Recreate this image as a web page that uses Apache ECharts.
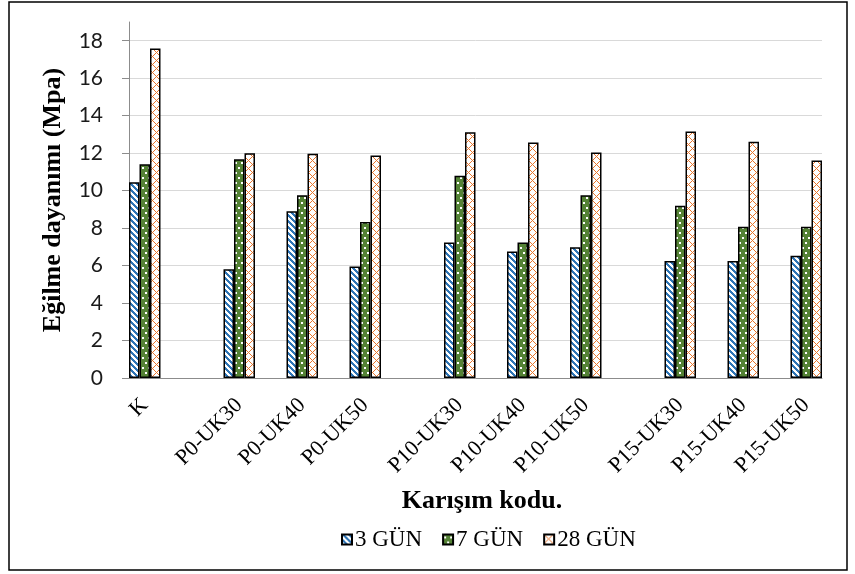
<!DOCTYPE html>
<html>
<head>
<meta charset="utf-8">
<script src="https://cdn.jsdelivr.net/npm/echarts@6/dist/echarts.min.js"></script>
<style>
  html, body { margin: 0; padding: 0; background: #fff; }
  #chart { width: 855px; height: 574px; }
</style>
</head>
<body>
<div id="chart"></div>
<script>
// Mix codes, grouped by P content
const groups = [
  ['K'],
  ['P0-UK30', 'P0-UK40', 'P0-UK50'],
  ['P10-UK30', 'P10-UK40', 'P10-UK50'],
  ['P15-UK30', 'P15-UK40', 'P15-UK50']
];
const seriesNames = ['3 GÜN', '7 GÜN', '28 GÜN'];

// Flexural strength (MPa), in the order of the mix codes above
const day3  = [10.45, 5.80, 8.90, 5.95, 7.23, 6.75, 6.98, 6.25, 6.25, 6.53];
const day7  = [11.41, 11.68, 9.76, 8.32, 10.79, 7.23, 9.76, 9.19, 8.07, 8.07];
const day28 = [17.59, 12.00, 11.97, 11.88, 13.12, 12.57, 12.04, 13.16, 12.61, 11.61];

const yTicks = [0, 2, 4, 6, 8, 10, 12, 14, 16, 18];

// Axis slots: one blank slot between mixes of a group, two between groups
const mixNames = groups.flat();
const axisCats = [];
groups.forEach((g, gi) => {
  if (gi > 0) axisCats.push('', '');
  g.forEach((name, i) => {
    if (i > 0) axisCats.push('');
    axisCats.push(name);
  });
});
const toSlots = vals => axisCats.map(c => c ? vals[mixNames.indexOf(c)] : '-');

// Fill patterns
function tile(w, h, paint) {
  const c = document.createElement('canvas');
  c.width = w; c.height = h;
  paint(c.getContext('2d'), w, h);
  return c;
}
const bluePattern = tile(6, 6, (ctx, w, h) => {
  ctx.fillStyle = '#ffffff'; ctx.fillRect(0, 0, w, h);
  ctx.fillStyle = '#2E75B6';
  for (let y = 0; y < h; y++) for (let x = 0; x < w; x++) {
    if ((((x - y) % 6) + 6) % 6 < 3) ctx.fillRect(x, y, 1, 1);
  }
});
const greenPattern = tile(6, 10, (ctx, w, h) => {
  ctx.fillStyle = '#548235'; ctx.fillRect(0, 0, w, h);
  ctx.fillStyle = '#ffffff';
  ctx.fillRect(1, 2, 2, 2);
  ctx.fillRect(4, 7, 2, 2);
});
const orangePattern = tile(8, 8, (ctx, w, h) => {
  ctx.fillStyle = '#ffffff'; ctx.fillRect(0, 0, w, h);
  ctx.fillStyle = '#E8762D';
  for (let y = 0; y < h; y++) for (let x = 0; x < w; x++) {
    if ((x + y) % 8 === 0 || (x - y + 8) % 8 === 0) ctx.fillRect(x, y, 1, 1);
  }
});
const patterns = [bluePattern, greenPattern, orangePattern];
const values = [day3, day7, day28];

const chart = echarts.init(document.getElementById('chart'), null, { renderer: 'canvas' });

chart.setOption({
  backgroundColor: '#ffffff',
  animation: false,
  grid: { left: 129, right: 33, top: 22, bottom: 196, containLabel: false },
  xAxis: {
    type: 'category',
    data: axisCats,
    name: 'Karışım kodu.',
    nameLocation: 'middle',
    nameGap: 110,
    nameTextStyle: {
      fontFamily: 'Liberation Serif', fontWeight: 'bold', fontSize: 26, color: '#000',
      padding: [0, 0, 0, 13]
    },
    axisLine: { lineStyle: { color: '#8c8c8c', width: 1 } },
    axisTick: { show: false },
    axisLabel: {
      interval: 0, rotate: 45, margin: 24,
      fontFamily: 'Liberation Serif', fontSize: 22, color: '#000'
    },
    splitLine: { show: false }
  },
  yAxis: {
    type: 'value',
    min: 0, max: 19, interval: 2,
    name: 'Eğilme dayanımı (Mpa)',
    nameLocation: 'middle',
    nameGap: 63,
    nameTextStyle: { fontFamily: 'Liberation Serif', fontWeight: 'bold', fontSize: 26, color: '#000' },
    axisLine: { show: true, lineStyle: { color: '#8c8c8c', width: 1 } },
    axisTick: { show: true, length: 7, lineStyle: { color: '#8c8c8c' }, customValues: yTicks },
    axisLabel: {
      margin: 26, fontFamily: 'Lato', fontSize: 21, color: '#1a1a1a',
      customValues: yTicks
    },
    splitLine: { show: true, lineStyle: { color: '#d9d9d9', width: 1 } }
  },
  legend: {
    left: 336, top: 523,
    itemWidth: 10, itemHeight: 10, itemGap: 20,
    icon: 'rect',
    textStyle: { fontFamily: 'Liberation Serif', fontSize: 23, color: '#000', padding: [2, 0, 0, -2] },
    data: seriesNames
  },
  series: seriesNames.map((name, i) => ({
    name,
    type: 'bar',
    data: toSlots(values[i]),
    barGap: '0%',
    barCategoryGap: '0%',
    itemStyle: {
      color: { image: patterns[i], repeat: 'repeat' },
      borderColor: '#000',
      borderWidth: 1.5
    }
  })),
  graphic: [{
    type: 'rect',
    silent: true,
    shape: { x: 9, y: 2, width: 838, height: 568 },
    style: { fill: 'none', stroke: '#000', lineWidth: 1.5 }
  }]
});
</script>
</body>
</html>
